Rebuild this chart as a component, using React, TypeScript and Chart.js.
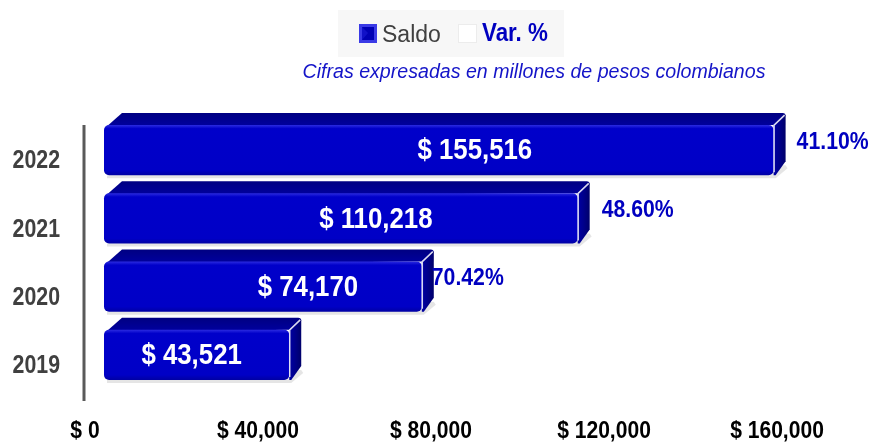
import { useEffect, useRef } from 'react';
import { Chart, registerables } from 'chart.js';
Chart.register(...registerables);

// ---- data ----
const years = ['2022', '2021', '2020', '2019'];
const saldo = [155516, 110218, 74170, 43521];
const varPct: (number | null)[] = [41.1, 48.6, 70.42, null];
const seriesNames = ['Saldo', 'Var. %'];
const subtitle = 'Cifras expresadas en millones de pesos colombianos';
const xMin = 0;
const xMax = 160000;
const xStep = 40000;

// ---- style ----
const SANS = "'Liberation Sans', Arial, sans-serif";
const DEPTH = 12;
const VALUE_NUDGE = [36, 35, 45, -5];
const PCT_GAP = [11, 12, -2, 0];

const fmtMoney = (v: number) => '$ ' + v.toLocaleString('en-US');
const fmtPct = (v: number) => v.toFixed(2) + '%';

function narrowText(
  ctx: CanvasRenderingContext2D,
  text: string,
  x: number,
  y: number,
  font: string,
  color: string,
  sx: number,
  align: CanvasTextAlign,
) {
  ctx.save();
  ctx.font = font;
  ctx.fillStyle = color;
  ctx.textBaseline = 'middle';
  ctx.textAlign = align;
  ctx.translate(x, y);
  ctx.scale(sx, 1);
  ctx.fillText(text, 0, 0);
  ctx.restore();
}

const decorPlugin = {
  id: 'decor',
  beforeDraw(chart: any) {
    const ctx = chart.ctx as CanvasRenderingContext2D;
    const ca = chart.chartArea;
    ctx.save();
    // legend background
    ctx.fillStyle = '#f7f7f7';
    ctx.fillRect(338, 10, 226, 47);
    // Saldo icon
    ctx.fillStyle = '#3a3ae6';
    ctx.fillRect(359, 24, 18, 19);
    ctx.fillStyle = '#0000b4';
    ctx.fillRect(362, 27, 12, 13);
    ctx.fillStyle = '#1010c8';
    ctx.beginPath();
    ctx.moveTo(362, 27);
    ctx.lineTo(368, 33);
    ctx.lineTo(362, 40);
    ctx.closePath();
    ctx.fill();
    // Saldo text
    ctx.fillStyle = '#404040';
    ctx.font = `23px ${SANS}`;
    ctx.textBaseline = 'alphabetic';
    ctx.textAlign = 'left';
    ctx.fillText(seriesNames[0], 382, 42);
    // Var icon
    ctx.fillStyle = '#ffffff';
    ctx.fillRect(458, 24, 19, 19);
    ctx.strokeStyle = '#ececec';
    ctx.lineWidth = 1;
    ctx.strokeRect(458.5, 24.5, 18, 18);
    ctx.restore();
    // Var text
    narrowText(ctx, seriesNames[1], 482, 34, `bold 26px ${SANS}`, '#0000c0', 0.86, 'left');
    // subtitle
    ctx.save();
    ctx.fillStyle = '#1414c8';
    ctx.font = `italic 19.6px ${SANS}`;
    ctx.textAlign = 'center';
    ctx.textBaseline = 'alphabetic';
    ctx.fillText(subtitle, 534, 78);
    // axis line
    ctx.strokeStyle = '#5a5a5a';
    ctx.lineWidth = 3;
    ctx.beginPath();
    ctx.moveTo(ca.left - 17, ca.top + 9);
    ctx.lineTo(ca.left - 17, ca.bottom + 12);
    ctx.stroke();
    ctx.restore();

    // x tick labels
    const xs = chart.scales.x;
    xs.ticks.forEach((t: any) => {
      narrowText(ctx, fmtMoney(t.value), xs.getPixelForValue(t.value) - 16, 431, `bold 24px ${SANS}`, '#000000', 0.878, 'center');
    });
    // y tick labels
    const ys = chart.scales.y;
    chart.data.labels.forEach((lab: string, i: number) => {
      narrowText(ctx, lab, 60, ys.getPixelForTick(i) + 11, `bold 26px ${SANS}`, '#404040', 0.82, 'right');
    });
  },
  afterDatasetsDraw(chart: any) {
    const ctx = chart.ctx as CanvasRenderingContext2D;
    const meta = chart.getDatasetMeta(0);
    const d = DEPTH;
    meta.data.forEach((el: any, i: number) => {
      const p = el.getProps(['x', 'y', 'base', 'height'], true);
      const left = Math.min(p.base, p.x) + 3;
      const right = Math.max(p.base, p.x);
      const top = p.y - p.height / 2;
      const bottom = p.y + p.height / 2;
      ctx.save();
      // shadow
      ctx.fillStyle = 'rgba(0,0,0,0.10)';
      ctx.beginPath();
      ctx.moveTo(left + 3, bottom);
      ctx.lineTo(right + d, bottom - d + 2);
      ctx.lineTo(right + d + 2, bottom - d + 5);
      ctx.lineTo(right + 2, bottom + 3);
      ctx.lineTo(left + 3, bottom + 3);
      ctx.closePath();
      ctx.fill();
      // top face
      const gTop = ctx.createLinearGradient(0, top - d, 0, top);
      gTop.addColorStop(0, '#000082');
      gTop.addColorStop(1, '#00009c');
      ctx.fillStyle = gTop;
      ctx.beginPath();
      ctx.moveTo(left + 1, top + 3);
      ctx.lineTo(left + d + 6, top - d);
      ctx.lineTo(right + d - 3, top - d);
      ctx.quadraticCurveTo(right + d, top - d, right + d, top - d + 3);
      ctx.lineTo(right, top);
      ctx.closePath();
      ctx.fill();
      // side face
      const gSide = ctx.createLinearGradient(right, 0, right + d, 0);
      gSide.addColorStop(0, '#0000a4');
      gSide.addColorStop(0.5, '#00008a');
      gSide.addColorStop(1, '#00006a');
      ctx.fillStyle = gSide;
      ctx.beginPath();
      ctx.moveTo(right, top);
      ctx.lineTo(right + d, top - d + 2);
      ctx.lineTo(right + d, bottom - d - 2);
      ctx.lineTo(right + 2, bottom);
      ctx.lineTo(right, bottom);
      ctx.closePath();
      ctx.fill();
      // front face
      const gFront = ctx.createLinearGradient(0, top, 0, bottom);
      gFront.addColorStop(0, '#2a2ae0');
      gFront.addColorStop(0.07, '#0000ca');
      gFront.addColorStop(0.9, '#0000c6');
      gFront.addColorStop(1, '#0000a4');
      ctx.fillStyle = gFront;
      ctx.beginPath();
      (ctx as any).roundRect(left, top, right - left, bottom - top, 5);
      ctx.fill();
      // highlight edge
      ctx.strokeStyle = 'rgba(255,255,255,0.85)';
      ctx.lineWidth = 1.5;
      ctx.beginPath();
      ctx.moveTo(right + 0.5, bottom - 3);
      ctx.lineTo(right + 0.5, top);
      ctx.lineTo(right + d - 1, top - d + 2);
      ctx.stroke();
      ctx.restore();
      // value label
      narrowText(ctx, fmtMoney(saldo[i]), (left + right) / 2 + (VALUE_NUDGE[i] || 0), p.y + 1, `bold 30px ${SANS}`, '#ffffff', 0.86, 'center');
      // pct label
      const v = varPct[i];
      if (v !== null && v !== undefined) {
        narrowText(ctx, fmtPct(v), right + d + (PCT_GAP[i] || 0), p.y - 8, `bold 24px ${SANS}`, '#0000c0', 0.885, 'left');
      }
    });
  },
};

export default function App() {
  const ref = useRef<HTMLCanvasElement>(null);
  useEffect(() => {
    if (!ref.current) return;
    const chart = new Chart(ref.current, {
      type: 'bar',
      data: {
        labels: years,
        datasets: [
          {
            label: seriesNames[0],
            data: saldo,
            backgroundColor: 'rgba(0,0,0,0)',
            borderWidth: 0,
            barPercentage: 0.733,
            categoryPercentage: 1,
          },
        ],
      },
      options: {
        indexAxis: 'y',
        responsive: false,
        animation: false,
        devicePixelRatio: 1,
        layout: { padding: { top: 116, right: 79, left: 0, bottom: 0 } },
        plugins: { legend: { display: false }, tooltip: { enabled: false } },
        scales: {
          x: {
            type: 'linear',
            min: xMin,
            max: xMax,
            grid: { display: false, drawTicks: false },
            border: { display: false },
            ticks: { stepSize: xStep, display: false },
            afterFit: (s: any) => {
              s.height = 55;
            },
          },
          y: {
            grid: { display: false, drawTicks: false },
            border: { display: false },
            ticks: { display: false },
            afterFit: (s: any) => {
              s.width = 101;
            },
          },
        },
      },
      plugins: [decorPlugin],
    } as any);
    return () => chart.destroy();
  }, []);
  return (
    <div style={{ position: 'fixed', left: 0, top: 0, width: 872, height: 444, background: '#fff' }}>
      <canvas ref={ref} width={872} height={444} style={{ display: 'block' }} />
    </div>
  );
}
